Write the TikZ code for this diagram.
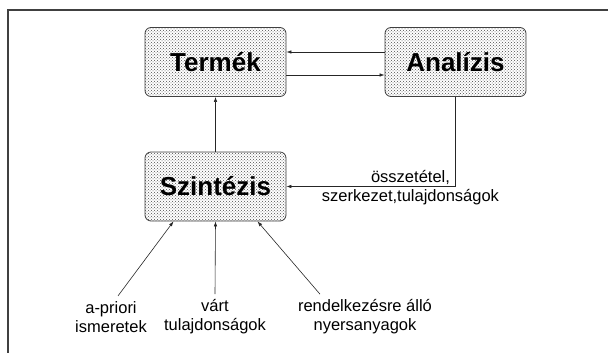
\documentclass[tikz,border=0pt]{standalone}
\usepackage{fontspec}
\setmainfont{Liberation Sans}
\usetikzlibrary{arrows.meta,patterns}
\tikzset{
  box/.style={draw=black!75,line width=0.8pt,rounded corners=6pt,minimum width=141pt,minimum height=69pt,
    pattern=crosshatch dots,pattern color=black!70,font=\fontsize{26}{28}\selectfont\bfseries},
  lbl/.style={align=center,font=\fontsize{16.5}{19}\selectfont},
  arr/.style={draw=black!85,line width=0.6pt,-{Latex[length=5pt,width=3.5pt]}}
}
\begin{document}
\begin{tikzpicture}[x=1pt,y=-1pt]
\useasboundingbox (0,0) rectangle (608,353);
\draw[black!75,line width=1.2pt] (8,353) -- (8,10) -- (608,10);

\node[box] (term) at (215.5,62) {Termék};
\node[box] (anal) at (455.5,62) {Analízis};
\node[box] (szint) at (215.5,186.5) {Szintézis};

\node[lbl] (osszet) at (410.5,188) {összetétel,\\szerkezet,tulajdonságok};
\node[lbl] (apriori) at (111,317) {a-priori\\ismeretek};
\node[lbl] (vart) at (215,317) {várt\\tulajdonságok};
\node[lbl] (nyers) at (365,317) {rendelkezésre álló\\nyersanyagok};

\draw[arr] ([yshift=10pt]anal.west) -- ([yshift=10pt]term.east);
\draw[arr] ([yshift=-13pt]term.east) -- ([yshift=-13pt]anal.west);
\draw[arr] (szint.north) -- (term.south);
\draw[arr] (anal.south) |- (szint.east);

\draw[arr] ([xshift=7pt,yshift=2pt]apriori.north) -- ([xshift=-42pt]szint.south);
\draw[arr] ([yshift=2pt]vart.north) -- (szint.south);
\draw[arr] ([xshift=-45pt,yshift=2pt]nyers.north) -- ([xshift=42pt]szint.south);
\end{tikzpicture}
\end{document}
